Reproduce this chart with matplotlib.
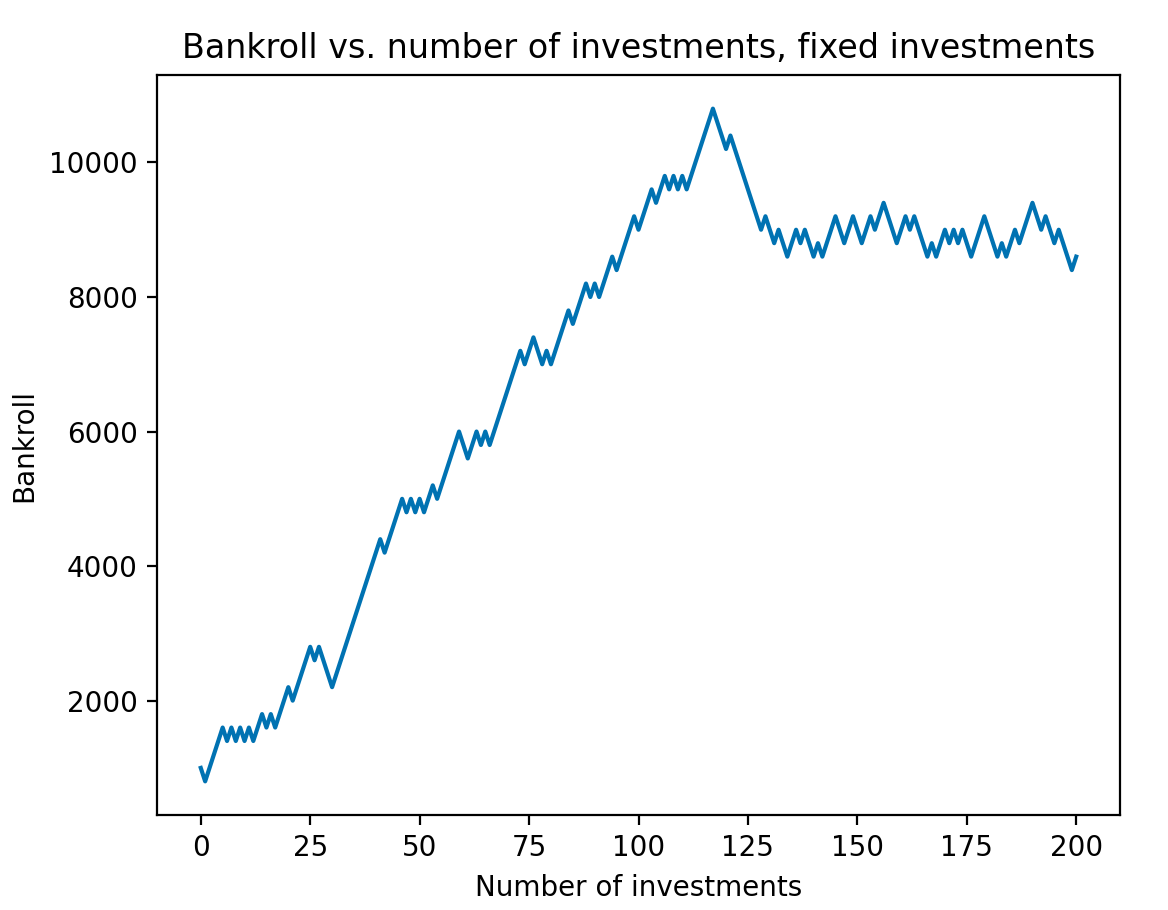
import matplotlib
matplotlib.use("Agg")
import matplotlib.pyplot as plt

investments = list(range(201))
bankroll = [
    1000, 800, 1000, 1200, 1400, 1600, 1400, 1600, 1400, 1600, 1400, 1600, 1400, 1600, 1800, 1600, 1800, 1600,
    1800, 2000, 2200, 2000, 2200, 2400, 2600, 2800, 2600, 2800, 2600, 2400, 2200,
    2400, 2600, 2800, 3000, 3200, 3400, 3600, 3800, 4000, 4200, 4400,
    4200, 4400, 4600, 4800, 5000, 4800, 5000, 4800, 5000, 4800, 5000, 5200, 5000,
    5200, 5400, 5600, 5800, 6000, 5800, 5600, 5800, 6000, 5800, 6000, 5800,
    6000, 6200, 6400, 6600, 6800, 7000, 7200, 7000, 7200, 7400, 7200, 7000, 7200, 7000,
    7200, 7400, 7600, 7800, 7600, 7800, 8000, 8200, 8000, 8200, 8000, 8200, 8400, 8600, 8400,
    8600, 8800, 9000, 9200, 9000, 9200, 9400, 9600, 9400, 9600, 9800, 9600, 9800, 9600, 9800, 9600,
    9800, 10000, 10200, 10400, 10600, 10800, 10600, 10400, 10200, 10400,
    10200, 10000, 9800, 9600, 9400, 9200, 9000, 9200, 9000, 8800, 9000, 8800, 8600,
    8800, 9000, 8800, 9000, 8800, 8600, 8800, 8600, 8800, 9000, 9200, 9000, 8800, 9000, 9200, 9000, 8800,
    9000, 9200, 9000, 9200, 9400, 9200, 9000, 8800, 9000, 9200, 9000, 9200, 9000, 8800, 8600, 8800, 8600,
    8800, 9000, 8800, 9000, 8800, 9000, 8800, 8600, 8800, 9000, 9200, 9000, 8800, 8600, 8800, 8600, 8800, 9000, 8800,
    9000, 9200, 9400, 9200, 9000, 9200, 9000, 8800, 9000, 8800, 8600, 8400, 8600,
]

fig = plt.figure(figsize=(5.84, 4.55), dpi=200)
ax = fig.add_axes([157 / 1168, 1 - 815 / 910, (1120 - 157) / 1168, (815 - 75) / 910])
ax.plot(investments, bankroll, color="#0072B2", linewidth=1.5)
ax.set_xlabel("Number of investments")
ax.set_ylabel("Bankroll")
ax.set_title("Bankroll vs. number of investments, fixed investments")
fig.savefig("out.png", dpi=200)
